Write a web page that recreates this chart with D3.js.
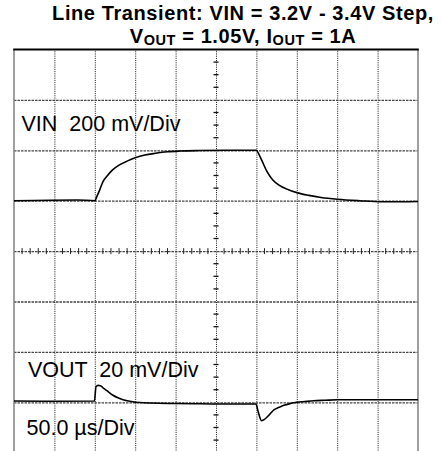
<!DOCTYPE html>
<html><head><meta charset="utf-8">
<script src="https://cdn.jsdelivr.net/npm/d3@7"></script>
<style>
html,body{margin:0;padding:0;background:#fff;}
svg{display:block;font-family:"Liberation Sans",Arial,Helvetica,sans-serif;}
</style></head>
<body><div id="chart"></div>
<script>
// ---- data (read from the scope shot) ----
// time in microseconds (10 div x 50 us)
const vinTime = [0, 78, 100, 103, 106, 110, 115, 122, 130, 140, 150, 162, 175, 190, 205, 230, 260, 300, 303, 307, 313, 320, 328, 337, 350, 365, 380, 400, 428, 455, 480, 500];
const vinVolt = [3.2, 3.203, 3.2, 3.22, 3.242, 3.275, 3.297, 3.322, 3.341, 3.357, 3.370, 3.381, 3.388, 3.394, 3.397, 3.399, 3.4, 3.4, 3.385, 3.358, 3.316, 3.283, 3.262, 3.247, 3.232, 3.221, 3.213, 3.206, 3.2, 3.196, 3.196, 3.197];
// VOUT deviation from 1.05 V, in mV
const voutTime = [0, 50, 99.5, 101.5, 104, 107, 111, 115, 122, 130, 135, 147, 168, 200, 230, 270, 299.5, 302, 306.5, 310, 314, 318, 322, 328, 334, 342, 350, 360, 371, 385, 400, 450, 500];
const voutMv = [0.5, 0.4, 0.5, 6.2, 6.7, 6.6, 5.5, 4.6, 2.9, 1.6, 1.0, 0.2, -0.3, -0.5, -0.6, -0.7, -0.7, -3.5, -7.3, -6.8, -5.6, -4.2, -2.9, -2.0, -1.2, -0.5, 0.0, 0.3, 0.6, 0.8, 1.0, 1.0, 1.0];
const timeGrid = [50, 100, 150, 200, 250, 300, 350, 400, 450];
const divGrid = [1, 2, 3, 4, 5, 6, 7];
const labels = ["VIN  200 mV/Div", "VOUT  20 mV/Div", "50.0 \u00B5s/Div"];

const W = 442, H = 451;
const svg = d3.select("#chart").append("svg").attr("width", W).attr("height", H);

const x = d3.scaleLinear().domain([0, 500]).range([14, 418]);
const yDiv = d3.scaleLinear().domain([0, 8]).range([452.7, 49.5]);
const yVin = d3.scaleLinear().domain([3.2, 3.4]).range([yDiv(5), yDiv(6)]);
const yVout = d3.scaleLinear().domain([0, 20]).range([yDiv(1), yDiv(2)]);

// title (one text element, two lines)
const t = svg.append("text").attr("text-anchor", "middle").attr("font-weight", "bold")
  .attr("font-size", 20).attr("letter-spacing", 0.6).attr("fill", "#000");
t.append("tspan").attr("x", 243).attr("y", 20).text("Line Transient: VIN = 3.2V - 3.4V Step,");
t.append("tspan").attr("x", 243).attr("y", 42.5).text("V")
  .append("tspan").attr("font-size", 14.5).attr("dy", 2.5).text("OUT");
const r2 = t.append("tspan");
r2.append("tspan").attr("dy", -2.5).text(" = 1.05V, I");
r2.append("tspan").attr("font-size", 14.5).attr("dy", 2.5).text("OUT");
r2.append("tspan").attr("dy", -2.5).text(" = 1A");

// grid via axes
const gx = svg.append("g").attr("transform", `translate(0,${yDiv(0)})`)
  .call(d3.axisBottom(x).tickValues(timeGrid).tickSize(-(yDiv(0) - yDiv(8))).tickFormat(""));
gx.select(".domain").remove();
gx.selectAll("line").attr("stroke", "#111").attr("stroke-width", 1).attr("stroke-dasharray", "1,1.2");

const gy = svg.append("g").attr("transform", `translate(${x(0)},0)`)
  .call(d3.axisLeft(yDiv).tickValues(divGrid).tickSize(-(x(500) - x(0))).tickFormat(""));
gy.select(".domain").remove();
gy.selectAll("line").attr("stroke", "#444").attr("stroke-width", 1.3).attr("stroke-dasharray", "2.5,1");

// centre-line minor ticks
const hTicks = d3.range(0, 501, 10).filter(v => v % 50 !== 0);
svg.append("g").selectAll("line").data(hTicks).join("line")
  .attr("x1", d => x(d)).attr("x2", d => x(d))
  .attr("y1", yDiv(4) - 3).attr("y2", yDiv(4) + 3)
  .attr("stroke", "#222").attr("stroke-width", 1);
const vTicks = d3.range(0, 8.01, 0.25).filter(v => v % 1 !== 0);
svg.append("g").selectAll("line").data(vTicks).join("line")
  .attr("x1", x(250) - 2.5).attr("x2", x(250) + 2.5)
  .attr("y1", d => yDiv(d)).attr("y2", d => yDiv(d))
  .attr("stroke", "#111").attr("stroke-width", 1.3);

// frame
svg.append("line").attr("x1", x(0)).attr("x2", x(0)).attr("y1", yDiv(8)).attr("y2", H)
  .attr("stroke", "#888").attr("stroke-width", 1.6);
svg.append("line").attr("x1", x(500)).attr("x2", x(500)).attr("y1", yDiv(8)).attr("y2", H)
  .attr("stroke", "#888").attr("stroke-width", 1.6);
svg.append("line").attr("x1", x(0) - 0.8).attr("x2", x(500) + 0.8).attr("y1", yDiv(8)).attr("y2", yDiv(8))
  .attr("stroke", "#000").attr("stroke-width", 2);

// traces
const vinLine = d3.line().x((d, i) => x(vinTime[i])).y(d => yVin(d)).curve(d3.curveMonotoneX);
svg.append("path").attr("d", vinLine(vinVolt)).attr("fill", "none")
  .attr("stroke", "#000").attr("stroke-width", 1.6);
const voutLine = d3.line().x((d, i) => x(voutTime[i])).y(d => yVout(d)).curve(d3.curveMonotoneX);
svg.append("path").attr("d", voutLine(voutMv)).attr("fill", "none")
  .attr("stroke", "#000").attr("stroke-width", 1.6);

// labels
const lab = svg.append("g").attr("font-size", 21.5).attr("fill", "#000").style("white-space", "pre");
lab.append("text").attr("x", 21.5).attr("y", 131).attr("xml:space", "preserve").text(labels[0]);
lab.append("text").attr("x", 28).attr("y", 377).attr("xml:space", "preserve").text(labels[1]);
lab.append("text").attr("x", 26.5).attr("y", 435).text(labels[2]);
</script></body></html>
